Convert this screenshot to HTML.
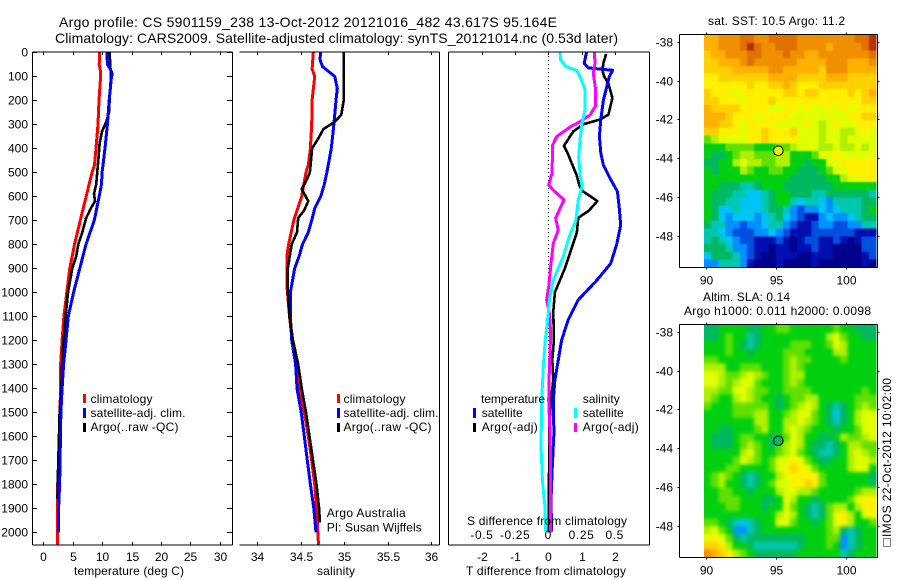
<!DOCTYPE html>
<html lang="en">
<head>
<meta charset="utf-8">
<title>Argo profile</title>
<style>
html,body{margin:0;padding:0;background:#fff;}
svg{display:block;}
text{font-family:"Liberation Sans",sans-serif;font-size:12px;fill:#000;}
.title{font-size:14px;}
</style>
</head>
<body>
<svg id="chart" xmlns="http://www.w3.org/2000/svg" width="900" height="580" viewBox="0 0 900 580">
<rect x="0" y="0" width="900" height="580" fill="#fff"/>
<defs>
<clipPath id="clipT"><rect x="32" y="52" width="200" height="493"/></clipPath>
<clipPath id="clipS"><rect x="239" y="52" width="200" height="493"/></clipPath>
<clipPath id="clipD"><rect x="448" y="52" width="201" height="493"/></clipPath>
<clipPath id="clipSst"><rect x="704" y="35" width="172.5" height="232.5"/></clipPath>
<clipPath id="clipSla"><rect x="704" y="325" width="172.5" height="232.5"/></clipPath>
<filter id="softSst" x="-10%" y="-10%" width="120%" height="120%" color-interpolation-filters="sRGB"><feGaussianBlur stdDeviation="0.9"/></filter>
<filter id="softSla" x="-10%" y="-10%" width="120%" height="120%" color-interpolation-filters="sRGB"><feGaussianBlur stdDeviation="1.8"/></filter>
</defs>
<g id="maps"></g>
<g id="lines"></g>
<g id="axes"></g>

<text class="title" x="59" y="27" textLength="498" lengthAdjust="spacing">Argo profile: CS 5901159_238 13-Oct-2012 20121016_482 43.617S 95.164E</text>
<text class="title" x="55" y="43" textLength="563" lengthAdjust="spacing">Climatology: CARS2009. Satellite-adjusted climatology: synTS_20121014.nc (0.53d later)</text>

<text x="74" y="575" textLength="110" lengthAdjust="spacing">temperature (deg C)</text>
<text x="317" y="575" textLength="38" lengthAdjust="spacing">salinity</text>
<text x="466" y="575" textLength="160" lengthAdjust="spacing">T difference from climatology</text>
<text x="467" y="525" textLength="160" lengthAdjust="spacing">S difference from climatology</text>

<g>
<rect x="83" y="394" width="3" height="9" fill="#f00"/>
<rect x="83" y="408" width="3" height="10" fill="#00f"/>
<rect x="83" y="423" width="3" height="9" fill="#000"/>
<text x="90.5" y="403" textLength="62" lengthAdjust="spacing">climatology</text>
<text x="90.5" y="417" textLength="95" lengthAdjust="spacing">satellite-adj. clim.</text>
<text x="90.5" y="431" textLength="88" lengthAdjust="spacing">Argo(..raw -QC)</text>
</g>
<g>
<rect x="337" y="394" width="3" height="9" fill="#f00"/>
<rect x="337" y="408" width="3" height="10" fill="#00f"/>
<rect x="337" y="423" width="3" height="9" fill="#000"/>
<text x="343.5" y="403" textLength="62" lengthAdjust="spacing">climatology</text>
<text x="343.5" y="417" textLength="95" lengthAdjust="spacing">satellite-adj. clim.</text>
<text x="343.5" y="431" textLength="88" lengthAdjust="spacing">Argo(..raw -QC)</text>
<text x="326.7" y="517" textLength="79" lengthAdjust="spacing">Argo Australia</text>
<text x="326.7" y="531.5" textLength="95" lengthAdjust="spacing">PI: Susan Wijffels</text>
</g>
<g>
<text x="481" y="403" textLength="64" lengthAdjust="spacing">temperature</text>
<rect x="473" y="408" width="3" height="10" fill="#00f"/>
<text x="481.7" y="417" textLength="41" lengthAdjust="spacing">satellite</text>
<rect x="473" y="423" width="3" height="9" fill="#000"/>
<text x="481.7" y="431" textLength="56" lengthAdjust="spacing">Argo(-adj)</text>
<text x="582.7" y="403" textLength="37" lengthAdjust="spacing">salinity</text>
<rect x="574" y="408" width="3" height="10" fill="#0ff"/>
<text x="582.7" y="417" textLength="41" lengthAdjust="spacing">satellite</text>
<rect x="574" y="423" width="3" height="9" fill="#f0f"/>
<text x="582.7" y="431" textLength="56" lengthAdjust="spacing">Argo(-adj)</text>
</g>

<text x="708" y="25" textLength="137" lengthAdjust="spacing">sat. SST: 10.5 Argo: 11.2</text>
<text x="703" y="301" textLength="87" lengthAdjust="spacing">Altim. SLA: 0.14</text>
<text x="684" y="315" textLength="187" lengthAdjust="spacing">Argo h1000: 0.011 h2000: 0.0098</text>
<g>
<rect x="883.5" y="538.5" width="7" height="8" fill="none" stroke="#000" stroke-width="1" stroke-dasharray="1 1"/>
<text transform="translate(891,537) rotate(-90)" x="0" y="0" textLength="159" lengthAdjust="spacing">IMOS 22-Oct-2012 10:02:00</text>
</g>
</svg>

<script>
// ---- profile data: depth (m) and value pairs for each series ----
const tempTicks = [0, 5, 10, 15, 20, 25, 30];
const salinityTicks = [34, 34.5, 35, 35.5, 36];
const salinityTickLabels = ['34', '34.5', '35', '35.5', '36'];
const tDiffTicks = [-2, -1, 0, 1, 2];
const sDiffTicks = [-0.5, -0.25, 0, 0.25, 0.5];
const depthTicks = [0, 100, 200, 300, 400, 500, 600, 700, 800, 900, 1000, 1100, 1200, 1300, 1400, 1500, 1600, 1700, 1800, 1900, 2000];
const lonTicks = [90, 95, 100];
const latTicks = [-38, -40, -42, -44, -46, -48];

const tempClimDepth = [0, 50, 75, 100, 200, 300, 400, 470, 500, 600, 700, 800, 900, 1000, 1100, 1200, 1300, 1400, 1500, 1700, 1800, 1900, 2060];
const tempClimValues = [9.6, 9.5, 9.7, 9.75, 9.47, 9.3, 8.96, 8.7, 8.3, 7.3, 6.3, 5.3, 4.5, 4.0, 3.5, 3.2, 2.95, 2.9, 2.85, 2.6, 2.45, 2.4, 2.45];
const tempSatDepth = [0, 50, 70, 90, 100, 200, 300, 400, 500, 550, 600, 700, 800, 900, 1000, 1100, 1200, 1300, 1400, 1500, 1600, 1700, 1800, 1900, 2000];
const tempSatValues = [10.83, 10.9, 11.4, 11.73, 11.6, 11.2, 10.9, 10.5, 10.0, 9.9, 9.5, 8.67, 7.26, 6.2, 5.15, 4.25, 3.86, 3.45, 3.2, 3.0, 2.9, 2.85, 2.77, 2.6, 2.6];
const tempArgoDepth = [0, 100, 200, 250, 290, 330, 380, 450, 550, 590, 620, 650, 690, 750, 800, 850, 900, 1000, 1100, 1200, 1300, 1400, 1500, 1600, 1700, 1800, 1860];
const tempArgoValues = [11.28, 11.5, 11.28, 11.17, 10.7, 9.98, 9.58, 9.35, 9.0, 8.62, 8.79, 8.1, 7.3, 6.63, 5.95, 5.6, 4.93, 4.2, 3.8, 3.45, 3.2, 3.06, 2.77, 2.67, 2.55, 2.45, 2.42];

const salClimDepth = [0, 70, 100, 200, 300, 400, 470, 500, 600, 700, 800, 850, 970, 1100, 1200, 1300, 1400, 1500, 1600, 1700, 1800, 1900, 2060];
const salClimValues = [34.644, 34.63, 34.66, 34.63, 34.625, 34.61, 34.586, 34.56, 34.51, 34.42, 34.36, 34.34, 34.34, 34.37, 34.4, 34.44, 34.49, 34.54, 34.586, 34.625, 34.66, 34.68, 34.705];
const salSatDepth = [0, 30, 60, 80, 100, 150, 200, 300, 400, 500, 550, 600, 650, 700, 750, 800, 850, 900, 1000, 1100, 1200, 1300, 1400, 1500, 1600, 1700, 1800, 1900, 2000];
const salSatValues = [34.73, 34.72, 34.75, 34.82, 34.89, 34.92, 34.905, 34.88, 34.85, 34.8, 34.77, 34.73, 34.66, 34.625, 34.586, 34.52, 34.48, 34.43, 34.38, 34.38, 34.395, 34.44, 34.456, 34.505, 34.54, 34.575, 34.61, 34.65, 34.675];
const salArgoDepth = [0, 200, 260, 290, 320, 360, 400, 500, 530, 570, 620, 660, 690, 750, 800, 900, 1000, 1100, 1200, 1300, 1400, 1500, 1600, 1700, 1800, 1900, 1960];
const salArgoValues = [34.993, 34.993, 34.965, 34.89, 34.76, 34.7, 34.63, 34.605, 34.57, 34.51, 34.586, 34.537, 34.47, 34.456, 34.395, 34.35, 34.35, 34.37, 34.41, 34.47, 34.51, 34.56, 34.6, 34.64, 34.68, 34.71, 34.72];

const tDiffSatDepth = [0, 45, 65, 75, 100, 200, 280, 350, 420, 470, 530, 580, 650, 720, 800, 880, 950, 1032, 1115, 1199, 1282, 1365, 1449, 1588, 1726, 1865, 1997];
const tDiffSatValues = [1.15, 1.08, 1.2, 1.94, 1.84, 1.66, 1.58, 1.54, 1.58, 1.66, 1.88, 2.08, 2.14, 2.18, 2.06, 1.88, 1.46, 0.9, 0.6, 0.4, 0.3, 0.2, 0.15, 0.17, 0.12, 0.08, 0.1];
const tDiffArgoDepth = [7, 45, 75, 100, 130, 190, 230, 260, 280, 300, 330, 390, 420, 470, 510, 560, 580, 620, 660, 690, 750, 830, 900, 1000, 1080, 1199, 1282, 1365, 1449, 1560, 1800, 2000];
const tDiffArgoValues = [1.74, 1.66, 1.63, 1.68, 1.81, 1.93, 1.86, 1.81, 1.56, 1.05, 0.75, 0.47, 0.58, 0.73, 0.85, 0.95, 1.05, 1.48, 1.22, 0.9, 0.86, 0.67, 0.5, 0.2, 0.15, 0.17, 0.12, 0.15, 0.08, 0.03, 0.02, 0.02];
const sDiffSatDepth = [0, 32, 60, 76, 115, 157, 240, 296, 365, 435, 504, 560, 615, 700, 768, 851, 949, 1032, 1115, 1199, 1310, 1449, 1643, 1796, 1893, 1997];
const sDiffSatValues = [0.088, 0.093, 0.133, 0.214, 0.25, 0.276, 0.276, 0.254, 0.239, 0.229, 0.239, 0.254, 0.226, 0.208, 0.158, 0.113, 0.038, 0.008, -0.005, -0.023, -0.038, -0.05, -0.055, -0.043, -0.025, -0.02];
const sDiffArgoDepth = [0, 45, 87, 157, 226, 261, 289, 310, 351, 386, 504, 553, 574, 615, 650, 692, 740, 796, 879, 976, 1032, 1088, 1171, 1310, 1449, 1588, 1726, 2000];
const sDiffArgoValues = [0.347, 0.352, 0.339, 0.357, 0.354, 0.314, 0.239, 0.168, 0.063, 0.033, 0.028, 0.003, 0.038, 0.118, 0.088, 0.055, 0.075, 0.038, 0.02, 0.003, -0.013, 0.008, 0.018, 0.008, 0.003, 0.013, 0.018, 0.018];

// ---- map data: colour-level grids, north to south ----
const floatLon = [95.164];
const floatLat = [-43.617];
const sstMarkerLevel = [10];
const slaMarkerLevel = [6];
const colorLevels = ['#00008c','#0010b0','#0050e0','#0090ff','#00c4f4','#00c8b0','#00b860','#00d010','#60e000','#b0f000','#e0ff00','#fff000','#ffd000','#ffb000','#f09000','#e07000','#b83000'];

const sstGrid = [
[13,13,14,14,14,15,15,14,14,15,15,15,15,14,14,14,14,14,14,14,14,15,15,16],
[13,13,14,14,14,15,16,15,14,14,15,15,15,14,14,14,14,13,14,14,14,14,15,16],
[12,13,13,14,14,14,15,15,14,14,14,15,14,14,13,13,14,14,14,14,14,14,14,15],
[12,12,13,13,13,14,15,14,14,14,14,14,14,13,13,13,13,14,14,14,13,13,13,14],
[12,12,12,12,13,13,13,13,13,14,14,13,13,13,13,13,12,14,14,14,13,13,13,13],
[11,11,12,12,12,12,12,12,12,13,13,13,13,12,12,12,12,13,13,13,12,12,12,12],
[11,11,11,11,11,11,12,11,11,12,12,13,12,11,11,11,12,12,12,12,12,12,12,12],
[12,11,11,11,10,11,11,11,11,11,11,12,12,11,12,12,11,11,11,11,12,11,12,13],
[12,12,11,11,11,10,11,11,11,12,11,11,11,11,11,11,11,11,11,11,11,11,12,12],
[13,12,12,12,12,11,11,11,11,10,10,11,11,10,11,10,10,11,10,11,10,11,11,11],
[13,13,13,12,11,11,11,10,11,11,11,11,10,10,10,10,10,10,10,10,11,11,12,12],
[13,13,12,12,11,10,11,11,11,11,10,10,10,10,11,10,9,10,11,10,10,11,11,11],
[12,12,11,11,11,10,11,11,12,11,11,11,12,10,10,10,9,10,10,9,9,10,11,10],
[8,9,10,10,10,10,11,11,12,11,11,11,11,10,10,10,9,10,10,9,10,10,10,10],
[7,7,7,8,8,8,8,7,7,7,8,8,9,10,10,10,9,9,10,9,9,10,9,10],
[7,6,6,7,8,9,9,8,8,8,9,9,7,7,7,8,10,10,11,10,10,10,10,10],
[6,6,7,7,9,10,9,9,8,8,9,9,7,7,6,7,7,10,10,11,11,11,11,11],
[7,6,7,7,7,9,8,7,7,8,8,7,7,6,6,6,7,8,10,10,11,11,11,11],
[7,7,7,7,7,7,7,7,7,7,7,7,6,6,6,6,6,7,7,9,10,10,11,11],
[7,7,6,6,6,5,5,6,7,7,7,6,6,6,6,6,6,6,7,7,7,7,7,7],
[7,6,6,6,5,5,4,4,5,6,7,7,6,6,6,5,5,6,6,6,6,6,6,5],
[7,6,6,5,5,4,4,4,5,6,7,7,5,4,5,5,4,3,5,5,5,5,6,6],
[7,6,4,4,5,4,4,4,5,6,6,5,3,2,3,3,4,3,4,5,5,5,6,7],
[7,6,4,3,4,4,4,3,4,5,6,4,3,2,1,1,3,4,3,3,4,5,6,6],
[6,5,5,3,3,2,3,3,4,5,5,3,2,1,1,2,3,3,2,2,3,3,5,5],
[5,5,4,3,2,2,2,3,3,4,3,2,1,1,1,2,2,2,2,2,2,1,1,1],
[5,6,5,4,3,2,2,1,1,1,2,1,0,1,2,2,1,1,2,1,0,1,2,2],
[6,6,6,5,3,3,2,1,1,0,1,1,0,1,1,2,1,1,0,0,0,0,2,2],
[4,6,6,6,5,3,2,1,0,0,1,1,1,0,0,1,1,1,0,0,0,0,1,2],
[3,3,5,5,5,3,1,0,0,0,1,0,0,0,0,1,0,0,0,0,0,0,1,0]
];

const slaGrid = [
[6,6,7,7,7,7,6,6,7,7,8,8,7,7,7,7,7,7,8,7,7,6,6,6],
[6,6,7,8,7,7,5,6,7,7,7,7,7,7,7,7,7,9,10,8,7,7,6,6],
[7,7,7,8,7,6,5,6,7,7,7,7,8,8,8,7,7,8,10,9,7,7,7,7],
[7,7,7,8,7,7,6,7,7,7,7,8,8,8,7,7,7,7,9,9,7,7,7,7],
[8,8,7,7,7,7,7,7,7,7,7,8,9,8,8,7,7,7,7,8,7,7,7,7],
[9,9,9,7,7,8,8,8,7,7,7,8,9,8,7,7,7,7,7,7,7,7,7,7],
[10,10,9,8,8,9,10,9,8,7,7,8,9,9,7,7,7,7,7,7,7,7,7,7],
[10,10,9,8,9,10,10,8,7,7,7,8,9,8,7,7,7,7,7,7,7,7,7,7],
[9,9,8,8,10,10,9,8,8,7,7,8,8,8,8,7,7,7,7,7,7,7,8,7],
[9,8,7,7,9,10,9,8,7,7,6,7,8,8,9,9,7,7,7,7,7,8,8,8],
[8,7,7,7,8,8,8,8,8,7,6,7,8,9,10,9,7,6,5,6,7,8,9,8],
[7,7,7,7,8,8,8,9,9,7,7,8,9,10,10,8,7,6,4,6,7,9,10,10],
[7,7,7,7,7,7,7,9,9,7,7,9,9,10,9,8,7,6,5,6,7,9,10,10],
[7,7,6,6,7,7,7,8,9,7,7,9,10,9,8,7,7,7,6,7,7,8,10,10],
[7,6,6,6,7,8,8,7,7,6,7,8,10,9,7,7,6,6,7,9,8,8,9,10],
[7,6,6,6,7,8,9,8,7,6,8,9,10,9,7,6,6,5,6,7,9,9,8,8],
[7,7,7,7,7,9,10,8,7,7,8,9,10,8,7,6,5,5,6,7,9,10,9,8],
[7,7,7,7,8,10,9,8,7,8,10,10,11,10,8,7,6,6,7,7,9,10,10,9],
[7,7,7,8,8,7,7,7,7,8,10,11,12,11,10,8,7,7,7,7,9,10,10,7],
[7,8,9,8,7,6,5,6,7,7,9,10,11,11,11,11,8,7,7,7,7,7,7,6],
[7,8,9,7,7,6,5,6,7,8,10,10,11,11,12,11,8,7,7,7,7,7,7,6],
[7,7,8,8,7,7,6,7,7,7,9,10,10,9,9,8,7,7,7,7,7,8,9,9],
[7,7,8,8,8,7,7,7,6,6,7,10,9,7,7,6,7,7,7,7,8,10,11,11],
[7,7,7,8,8,7,7,7,6,7,7,10,8,7,6,5,6,8,9,9,7,9,11,11],
[7,7,7,7,7,7,7,7,7,7,9,10,9,7,6,5,6,8,10,11,9,7,10,11],
[8,8,7,6,5,4,5,6,7,7,10,10,8,7,7,6,7,8,10,11,9,7,7,8],
[9,10,8,7,3,3,5,6,7,7,7,7,7,7,7,7,7,8,9,6,5,6,7,7],
[10,11,10,8,6,5,6,6,6,6,6,6,6,6,7,7,7,8,8,3,5,6,7,7],
[12,12,11,9,7,7,6,5,5,5,5,5,5,6,7,7,7,8,7,3,5,6,7,7],
[14,13,12,11,9,8,7,6,6,6,6,6,6,7,7,7,7,7,7,5,6,7,7,7]
];

// ---- axis functions ----
const SVG_NS = 'http://www.w3.org/2000/svg';
const linesLayer = document.getElementById('lines');
const axesLayer = document.getElementById('axes');
const mapsLayer = document.getElementById('maps');

function depthY(d) { return 52.3 + d * 0.24; }
function tempX(v) { return 43.3 + v * 5.88; }
function salX(v) { return 257.3 + (v - 34) * 87; }
function tDiffX(v) { return 548.3 + v * 33.2; }
function sDiffX(v) { return 548.3 + v * 132.8; }
function lonX(lon) { return 706 + (lon - 90) * 14; }
function sstLatY(lat) { return 42 + (-38 - lat) * 19.35; }
function slaLatY(lat) { return 332 + (-38 - lat) * 19.35; }

function node(tag, attrs, parent) {
  const el = document.createElementNS(SVG_NS, tag);
  for (const k in attrs) el.setAttribute(k, attrs[k]);
  parent.appendChild(el);
  return el;
}

function drawProfile(name, depths, values, xFn, color, clip, width) {
  const pts = depths.map((d, i) => xFn(values[i]).toFixed(1) + ',' + depthY(d).toFixed(1)).join(' ');
  const el = node('polyline', {points: pts, fill: 'none', stroke: color, 'stroke-width': width, 'stroke-linejoin': 'round', 'clip-path': 'url(#' + clip + ')', 'shape-rendering': 'crispEdges'}, linesLayer);
  
  
}

function seg(name, x1, y1, x2, y2) {
  const el = node('line', {x1: x1, y1: y1, x2: x2, y2: y2, stroke: '#000', 'stroke-width': 1, 'shape-rendering': 'crispEdges'}, axesLayer);
  
  
  return el;
}

function label(name, str, x, y, anchor) {
  const el = node('text', {x: x, y: y, 'text-anchor': anchor}, axesLayer);
  el.textContent = str;
  
  
  return el;
}

// ---- spines ----
const TOP = 52, BOT = 545;
seg('temperature-panel-left-spine', 32.5, TOP, 32.5, BOT);
seg('temperature-panel-right-spine', 232.5, TOP, 232.5, BOT);
seg('temperature-panel-top-spine', 32.5, TOP, 232.5, TOP);
seg('temperature-panel-bottom-spine', 32.5, BOT, 232.5, BOT);
seg('salinity-panel-right-spine', 439.5, TOP, 439.5, BOT);
seg('salinity-panel-top-spine', 239.5, TOP, 439.5, TOP);
seg('salinity-panel-bottom-spine', 239.5, BOT, 439.5, BOT);
seg('difference-panel-left-spine', 448.5, TOP, 448.5, BOT);
seg('difference-panel-right-spine', 649.5, TOP, 649.5, BOT);
seg('difference-panel-top-spine', 448.5, TOP, 649.5, TOP);
seg('difference-panel-bottom-spine', 448.5, BOT, 649.5, BOT);

// ---- profile ticks ----
depthTicks.forEach(d => {
  const y = Math.round(depthY(d)) + 0.5;
  seg('depth-tick-left', 32.5, y, 37, y);
  seg('depth-tick-right', 227, y, 232.5, y);
  label('depth-tick-label', String(d), 28, y + 4, 'end');
});
tempTicks.forEach(v => {
  const x = Math.round(tempX(v)) + 0.5;
  seg('temperature-tick-top', x, TOP, x, TOP + 3);
  seg('temperature-tick-bottom', x, BOT - 3, x, BOT);
  label('temperature-tick-label', String(v), x, 561, 'middle');
});
salinityTicks.forEach((v, i) => {
  const x = Math.round(salX(v)) + 0.5;
  seg('salinity-tick-top', x, TOP, x, TOP + 3);
  seg('salinity-tick-bottom', x, BOT - 3, x, BOT);
  label('salinity-tick-label', salinityTickLabels[i], x, 561, 'middle');
});
tDiffTicks.forEach(v => {
  const x = Math.round(tDiffX(v)) + 0.5;
  seg('t-difference-tick-top', x, TOP, x, TOP + 3);
  label('t-difference-tick-label', String(v), x, 561, 'middle');
});
sDiffTicks.forEach(v => {
  const el = label('s-difference-tick-label', String(v), sDiffX(v), 539, 'middle');
  el.setAttribute('letter-spacing', '0.6');
});

// ---- zero reference line ----
const zeroLine = node('line', {x1: 548.5, y1: TOP, x2: 548.5, y2: 532, stroke: '#000', 'stroke-width': 1, 'stroke-dasharray': '1 3', 'shape-rendering': 'crispEdges'}, linesLayer);



// ---- profile series ----
drawProfile('temperature-climatology-line', tempClimDepth, tempClimValues, tempX, '#f00', 'clipT', 3);
drawProfile('temperature-argo-line', tempArgoDepth, tempArgoValues, tempX, '#000', 'clipT', 2.6);
drawProfile('temperature-satellite-line', tempSatDepth, tempSatValues, tempX, '#00f', 'clipT', 3);
drawProfile('salinity-climatology-line', salClimDepth, salClimValues, salX, '#f00', 'clipS', 3);
drawProfile('salinity-satellite-line', salSatDepth, salSatValues, salX, '#00f', 'clipS', 3);
drawProfile('salinity-argo-line', salArgoDepth, salArgoValues, salX, '#000', 'clipS', 2.6);
drawProfile('t-difference-argo-line', tDiffArgoDepth, tDiffArgoValues, tDiffX, '#000', 'clipD', 2.6);
drawProfile('t-difference-satellite-line', tDiffSatDepth, tDiffSatValues, tDiffX, '#00f', 'clipD', 3);
drawProfile('s-difference-argo-line', sDiffArgoDepth, sDiffArgoValues, sDiffX, '#f0f', 'clipD', 3);
drawProfile('s-difference-satellite-line', sDiffSatDepth, sDiffSatValues, sDiffX, '#0ff', 'clipD', 3);

// ---- maps ----
const LON_START = 89.857, LON_STEP = 0.512, LAT_START = -37.64, LAT_STEP = 0.4;

function levelColor(v) {
  const i = Math.max(0, Math.min(colorLevels.length - 1, Math.round(v)));
  return colorLevels[i];
}

function drawMap(prefix, grid, latY, top, bottom, markerLevel, clipId, filterId) {
  const clipGroup = node('g', {'clip-path': 'url(#' + clipId + ')'}, mapsLayer);
  
  
  const softGroup = node('g', {filter: 'url(#' + filterId + ')'}, clipGroup);
  
  
  grid.forEach((row, r) => {
    row.forEach((v, c) => {
      let x0 = lonX(LON_START + c * LON_STEP), x1 = lonX(LON_START + (c + 1) * LON_STEP);
      let y0 = latY(LAT_START - r * LAT_STEP), y1 = latY(LAT_START - (r + 1) * LAT_STEP);
      // edge cells run past the clip so the softening does not fade at the map border
      if (c === 0) x0 -= 12;
      if (c === row.length - 1) x1 += 12;
      if (r === 0) y0 -= 12;
      if (r === grid.length - 1) y1 += 12;
      const cell = node('rect', {x: x0.toFixed(2), y: y0.toFixed(2), width: (x1 - x0 + 0.4).toFixed(2), height: (y1 - y0 + 0.4).toFixed(2), fill: levelColor(v), 'shape-rendering': 'crispEdges'}, softGroup);
      
      
    });
  });
  const left = 679.5, right = 877.5;
  seg(prefix + '-map-left-spine', left, top, left, bottom);
  seg(prefix + '-map-right-spine', right, top, right, bottom);
  seg(prefix + '-map-top-spine', left, top, right, top);
  seg(prefix + '-map-bottom-spine', left, bottom, right, bottom);
  lonTicks.forEach(lon => {
    const x = Math.round(lonX(lon)) + 0.5;
    seg(prefix + '-lon-tick-top', x, top - 2, x, top);
    seg(prefix + '-lon-tick-bottom', x, bottom, x, bottom + 2);
    label(prefix + '-lon-tick-label', String(lon), x, bottom + 17, 'middle');
  });
  latTicks.forEach(lat => {
    const y = Math.round(latY(lat)) + 0.5;
    seg(prefix + '-lat-tick-left', left - 2, y, left, y);
    seg(prefix + '-lat-tick-right', right, y, right + 2, y);
    label(prefix + '-lat-tick-label', String(lat), 673, y + 4, 'end');
  });
  const marker = node('circle', {cx: lonX(floatLon[0]).toFixed(1), cy: latY(floatLat[0]).toFixed(1), r: 4.8, fill: levelColor(markerLevel[0]), stroke: '#000', 'stroke-width': 1}, axesLayer);
  
  
}

drawMap('sst', sstGrid, sstLatY, 34.5, 267.5, sstMarkerLevel, 'clipSst', 'softSst');
drawMap('sla', slaGrid, slaLatY, 324.5, 557.5, slaMarkerLevel, 'clipSla', 'softSla');
</script>
</body>
</html>
